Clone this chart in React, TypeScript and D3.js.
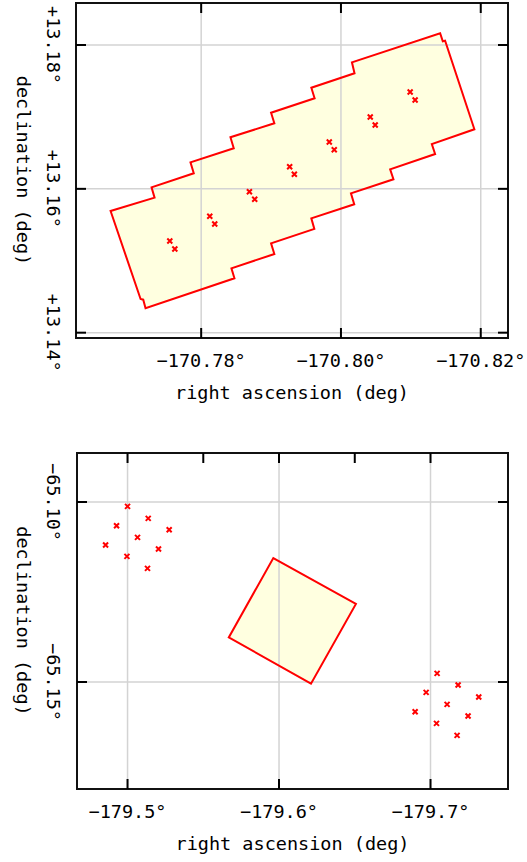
import React from "react";
import * as d3 from "d3";

// ---------- Top chart data ----------
const topRaDomain = [-170.76209, -170.8239];
const topDecDomain = [13.13926, 13.18584];
const topRaTicks = [-170.78, -170.8, -170.82];
const topRaTickLabels = ["−170.78°", "−170.80°", "−170.82°"];
const topDecTicks = [13.14, 13.16, 13.18];
const topDecTickLabels = ["+13.14°", "+13.16°", "+13.18°"];
const topPolyRa = [
  -170.76704, -170.77133, -170.77171, -170.77204, -170.78476, -170.78433, -170.79047, -170.79,
  -170.79619, -170.79576, -170.8019, -170.80143, -170.80751, -170.80704, -170.81347, -170.813,
  -170.81909, -170.8149, -170.81457, -170.81419, -170.80157, -170.80194, -170.79576, -170.79623,
  -170.79, -170.79047, -170.78419, -170.78466, -170.77847, -170.77894, -170.7729, -170.77333,
];
const topPolyDec = [
  13.15692, 13.14468, 13.14459, 13.14339, 13.14756, 13.14895, 13.15094, 13.15243,
  13.15442, 13.1559, 13.15785, 13.15938, 13.16133, 13.16272, 13.16484, 13.16623,
  13.16828, 13.1806, 13.18051, 13.18163, 13.17759, 13.17607, 13.17406, 13.17259,
  13.17059, 13.16911, 13.16717, 13.16564, 13.16369, 13.16216, 13.16021, 13.15877,
];
const topPtRa = [
  -170.77551, -170.77623, -170.78123, -170.78194, -170.7869, -170.78766, -170.79266,
  -170.79333, -170.79833, -170.79904, -170.80419, -170.8049, -170.8099, -170.81061,
];
const topPtDec = [
  13.15275, 13.15164, 13.15618, 13.15511, 13.1596, 13.15855, 13.16308,
  13.16202, 13.16651, 13.16544, 13.16999, 13.16888, 13.17347, 13.17235,
];

// ---------- Bottom chart data ----------
const botRaDomain = [-179.46664, -179.75115];
const botDecDomain = [-65.17972, -65.08639];
const botRaTicks = [-179.5, -179.6, -179.7];
const botRaTickLabels = ["−179.5°", "−179.6°", "−179.7°"];
const botRaMinorTopTicks = [-179.5, -179.55, -179.6, -179.65, -179.7];
const botDecTicks = [-65.15, -65.1];
const botDecTickLabels = ["−65.15°", "−65.10°"];
const botPolyRa = [-179.59624, -179.65076, -179.6211, -179.56684];
const botPolyDec = [-65.11556, -65.12833, -65.15047, -65.13761];
const botPtRa = [
  -179.5, -179.51365, -179.49275, -179.52749, -179.50659, -179.4855, -179.52044, -179.4996, -179.51318,
  -179.70435, -179.7182, -179.6971, -179.73184, -179.71094, -179.68985, -179.72479, -179.70395, -179.71754,
];
const botPtDec = [
  -65.10122, -65.10456, -65.10658, -65.10769, -65.10983, -65.11194, -65.11306, -65.11511, -65.11844,
  -65.14761, -65.15083, -65.15289, -65.15417, -65.15622, -65.15825, -65.15944, -65.1615, -65.16483,
];

const FONT = "'DejaVu Sans Mono', monospace";
const FS = 18.5;
const RED = "#ff0000";
const FILL = "#ffffe0";
const GRID = "#d3d3d3";

type PanelProps = {
  left: number; right: number; top: number; bottom: number;
  raDomain: number[]; decDomain: number[];
  raTicks: number[]; raTickLabels: string[]; raTopTicks: number[];
  decTicks: number[]; decTickLabels: string[];
  polyRa: number[]; polyDec: number[];
  ptRa: number[]; ptDec: number[];
};

function Panel(p: PanelProps) {
  const x = d3.scaleLinear().domain(p.raDomain).range([p.left, p.right]);
  const y = d3.scaleLinear().domain(p.decDomain).range([p.bottom, p.top]);
  const poly = p.polyRa.map((r, i) => [x(r), y(p.polyDec[i])] as [number, number]);
  const line = d3.line().curve(d3.curveLinearClosed);
  const polyPath = line(poly) || "";
  const tl = 10;
  const s = 2.5;
  const cx = (p.left + p.right) / 2;
  const cy = (p.top + p.bottom) / 2;
  return (
    <g>
      <path d={polyPath} fill={FILL} stroke="none" />
      {p.raTicks.map((t, i) => (
        <line key={"gx" + i} x1={x(t)} x2={x(t)} y1={p.top} y2={p.bottom} stroke={GRID} strokeWidth={1.5} />
      ))}
      {p.decTicks.map((t, i) => (
        <line key={"gy" + i} x1={p.left} x2={p.right} y1={y(t)} y2={y(t)} stroke={GRID} strokeWidth={1.5} />
      ))}
      <path d={polyPath} fill="none" stroke={RED} strokeWidth={2} strokeLinejoin="miter" />
      {p.ptRa.map((r, i) => {
        const px = x(r);
        const py = y(p.ptDec[i]);
        return (
          <path key={"pt" + i}
            d={`M${px - s},${py - s}L${px + s},${py + s}M${px + s},${py - s}L${px - s},${py + s}`}
            stroke={RED} strokeWidth={2} fill="none" />
        );
      })}
      <rect x={p.left} y={p.top} width={p.right - p.left} height={p.bottom - p.top}
        fill="none" stroke="#111" strokeWidth={2} />
      {p.raTicks.map((t, i) => (
        <line key={"tb" + i} x1={x(t)} x2={x(t)} y1={p.bottom} y2={p.bottom - tl} stroke="#000" strokeWidth={2} />
      ))}
      {p.raTopTicks.map((t, i) => (
        <line key={"tt" + i} x1={x(t)} x2={x(t)} y1={p.top} y2={p.top + tl} stroke="#000" strokeWidth={2} />
      ))}
      {p.decTicks.map((t, i) => (
        <g key={"ty" + i}>
          <line x1={p.left} x2={p.left + tl} y1={y(t)} y2={y(t)} stroke="#000" strokeWidth={2} />
          <line x1={p.right} x2={p.right - tl} y1={y(t)} y2={y(t)} stroke="#000" strokeWidth={2} />
        </g>
      ))}
      {p.raTicks.map((t, i) => (
        <text key={"lx" + i} x={x(t)} y={p.bottom + 29} textAnchor="middle"
          fontFamily={FONT} fontSize={FS} fill="#000">{p.raTickLabels[i]}</text>
      ))}
      {p.decTicks.map((t, i) => (
        <text key={"ly" + i} transform={`translate(${47},${y(t)}) rotate(90)`} textAnchor="middle"
          fontFamily={FONT} fontSize={FS} fill="#000">{p.decTickLabels[i]}</text>
      ))}
      <text x={cx} y={p.bottom + 61} textAnchor="middle" fontFamily={FONT} fontSize={FS} fill="#000">
        right ascension (deg)
      </text>
      <text transform={`translate(${16.5},${cy}) rotate(90)`} textAnchor="middle"
        fontFamily={FONT} fontSize={FS} fill="#000">declination (deg)</text>
    </g>
  );
}

export default function App() {
  return (
    <svg width={527} height={862} viewBox="0 0 527 862"
      style={{ position: "absolute", left: 0, top: 0, display: "block", background: "#fff" }}>
      <rect x={0} y={0} width={527} height={862} fill="#fff" />
      <Panel left={76} right={508} top={3} bottom={338}
        raDomain={topRaDomain} decDomain={topDecDomain}
        raTicks={topRaTicks} raTickLabels={topRaTickLabels} raTopTicks={topRaTicks}
        decTicks={topDecTicks} decTickLabels={topDecTickLabels}
        polyRa={topPolyRa} polyDec={topPolyDec} ptRa={topPtRa} ptDec={topPtDec} />
      <Panel left={77} right={508} top={453} bottom={789}
        raDomain={botRaDomain} decDomain={botDecDomain}
        raTicks={botRaTicks} raTickLabels={botRaTickLabels} raTopTicks={botRaMinorTopTicks}
        decTicks={botDecTicks} decTickLabels={botDecTickLabels}
        polyRa={botPolyRa} polyDec={botPolyDec} ptRa={botPtRa} ptDec={botPtDec} />
    </svg>
  );
}
